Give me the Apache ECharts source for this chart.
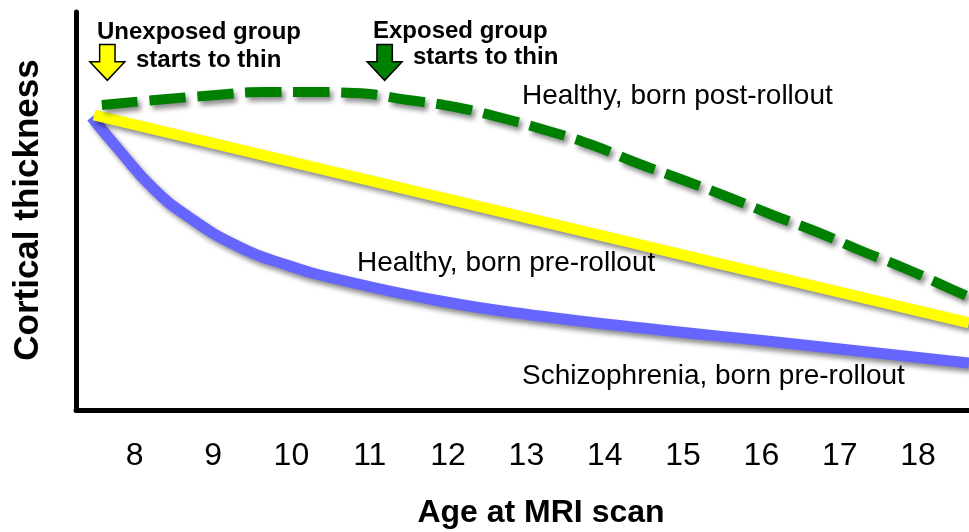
<!DOCTYPE html>
<html>
<head>
<meta charset="utf-8">
<script src="https://cdn.jsdelivr.net/npm/echarts@6/dist/echarts.min.js"></script>
<style>
  html, body { margin: 0; padding: 0; background: #fff; }
  #chart { width: 969px; height: 532px; }
</style>
</head>
<body>
<div id="chart"></div>
<script>
// ages (x) and relative cortical thickness (y, arbitrary 0-100 scale)
var postAge = [7.58, 8.41, 9.04, 9.65, 10.26, 10.81, 11.49, 12.09, 12.69, 13.28, 13.84, 14.41, 15.0, 15.57, 16.14, 16.71, 17.28, 17.85, 18.42, 18.65];
var postThick = [76.25, 77.75, 78.75, 79.5, 79.5, 79.25, 77.5, 75.75, 73, 69.75, 66.25, 61.75, 57.5, 53.25, 48.75, 44.5, 39.75, 35.25, 30.25, 28.25];
var preAge = [7.48, 18.65];
var preThick = [73.75, 21.75];
var schizAge = [7.45, 7.81, 8.23, 8.67, 9.31, 9.94, 10.58, 11.9, 13.17, 14.71, 16.07, 18.65];
var schizThick = [73.25, 64.75, 55.5, 48.5, 41, 36.25, 32.75, 27.25, 23.5, 20, 17.25, 11.75];
var ageTicks = [8, 9, 10, 11, 12, 13, 14, 15, 16, 17, 18];
var arrowAge = [7.65, 11.19];
var arrowLevel = [86.9, 86.9];

var FONT = '"Liberation Sans", Arial, sans-serif';
var ARROW = 'path://M28,0 L72,0 L72,48 L100,48 L50,100 L0,48 L28,48 Z';

function zip(xs, ys) {
  return xs.map(function (x, i) { return [x, ys[i]]; });
}

var chart = echarts.init(document.getElementById('chart'));

var shadow = {
  shadowColor: 'rgba(0,0,0,0.45)',
  shadowBlur: 5,
  shadowOffsetX: 3,
  shadowOffsetY: 4
};

var option = {
  animation: false,
  backgroundColor: '#fff',
  grid: { left: 76, right: 0, top: 12, bottom: 122 },
  xAxis: {
    type: 'value',
    min: 7.25,
    max: 18.65,
    axisLine: { show: true, lineStyle: { color: '#000', width: 5 } },
    axisTick: { show: false },
    splitLine: { show: false },
    axisLabel: {
      customValues: ageTicks,
      color: '#000',
      fontFamily: FONT,
      fontSize: 32,
      lineHeight: 32,
      margin: 30
    }
  },
  yAxis: {
    type: 'value',
    min: 0,
    max: 99.5,
    axisLine: { show: true, lineStyle: { color: '#000', width: 5 } },
    axisTick: { show: false },
    axisLabel: { show: false },
    splitLine: { show: false }
  },
  series: [
    {
      name: 'Healthy, born pre-rollout',
      type: 'line',
      data: zip(preAge, preThick),
      showSymbol: false,
      lineStyle: Object.assign({ color: '#ffff00', width: 11 }, shadow),
      z: 3
    },
    {
      name: 'Schizophrenia, born pre-rollout',
      type: 'line',
      data: zip(schizAge, schizThick),
      smooth: 0.5,
      showSymbol: false,
      lineStyle: Object.assign({ color: '#6666ff', width: 11 }, shadow),
      z: 2
    },
    {
      name: 'Healthy, born post-rollout',
      type: 'line',
      data: zip(postAge, postThick),
      smooth: 0.5,
      showSymbol: false,
      lineStyle: Object.assign({ color: '#008000', width: 10, type: [36, 12], cap: 'butt' }, shadow),
      z: 4
    },
    {
      name: 'arrows',
      type: 'scatter',
      symbol: ARROW,
      symbolSize: [35, 36],
      data: [
        { value: [arrowAge[0], arrowLevel[0]], itemStyle: { color: '#ffff00' } },
        { value: [arrowAge[1], arrowLevel[1]], itemStyle: { color: '#008000' } }
      ],
      itemStyle: { borderColor: '#000', borderWidth: 1.5, opacity: 1 },
      z: 5
    }
  ],
  graphic: [
    { type: 'text', x: 97, y: 32, style: { text: 'Unexposed group', font: 'bold 24px ' + FONT, fill: '#000', verticalAlign: 'middle' } },
    { type: 'text', x: 136, y: 60, style: { text: 'starts to thin', font: 'bold 24px ' + FONT, fill: '#000', verticalAlign: 'middle' } },
    { type: 'text', x: 373, y: 31, style: { text: 'Exposed group', font: 'bold 24px ' + FONT, fill: '#000', verticalAlign: 'middle' } },
    { type: 'text', x: 413, y: 57, style: { text: 'starts to thin', font: 'bold 24px ' + FONT, fill: '#000', verticalAlign: 'middle' } },
    { type: 'text', x: 522, y: 96, style: { text: 'Healthy, born post-rollout', font: '28px ' + FONT, fill: '#000', verticalAlign: 'middle' } },
    { type: 'text', x: 357, y: 263, style: { text: 'Healthy, born pre-rollout', font: '28px ' + FONT, fill: '#000', verticalAlign: 'middle' } },
    { type: 'text', x: 522, y: 376, style: { text: 'Schizophrenia, born pre-rollout', font: '28px ' + FONT, fill: '#000', verticalAlign: 'middle' } },
    { type: 'text', x: 541, y: 513, style: { text: 'Age at MRI scan', font: 'bold 32px ' + FONT, fill: '#000', align: 'center', verticalAlign: 'middle' } },
    { type: 'text', x: 28, y: 210, rotation: Math.PI / 2, style: { text: 'Cortical thickness', font: 'bold 35px ' + FONT, fill: '#000', align: 'center', verticalAlign: 'middle' } }
  ]
};

chart.setOption(option);
</script>
</body>
</html>
